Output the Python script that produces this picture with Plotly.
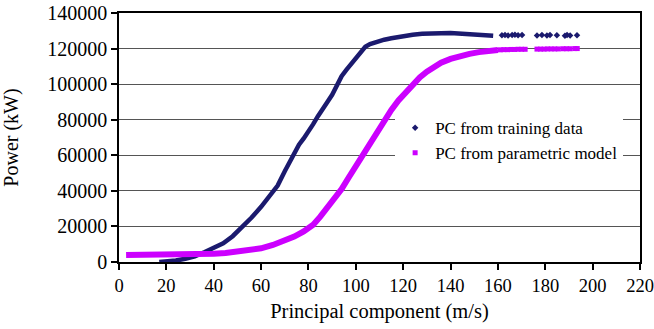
import plotly.graph_objects as go

# Power curve read from training data (dense part and sparse high-speed tail)
train_x = [17, 20, 24, 28, 32, 36, 40, 44, 48, 52, 56, 60, 64, 67, 70, 72, 74, 76, 78,
           80, 82, 84, 86, 88, 90, 92, 94, 96, 98, 100, 102, 104, 106, 108, 110, 112,
           115, 118, 121, 124, 128, 132, 136, 140, 144, 148, 152, 156, 158]
train_y = [0, 300, 800, 1800, 3200, 5500, 7800, 10500, 14500, 19500, 25000, 31000,
           37500, 43000, 51000, 56000, 61000, 66000, 69500, 73000, 77500, 82000, 86500,
           90000, 94000, 99000, 104500, 108000, 111500, 115000, 118500, 121000, 122500,
           123500, 124300, 125000, 125800, 126600, 127300, 127800, 128300, 128700,
           128600, 128800, 128400, 128200, 127600, 127400, 127200]
train_tail_x = [161.7, 163, 164.3, 166, 167.2, 168.5, 170.2, 176.5, 178.6, 180.7, 182,
                184.9, 188.3, 189.2, 190.5, 193.4]
train_tail_y = [127500, 127700, 127400, 127600, 127800, 127500, 127600, 127400, 127600,
                127300, 127700, 127500, 127200, 127600, 127400, 127500]

# Power curve from the parametric model
model_x = [3, 10, 20, 30, 40, 45, 50, 55, 60, 65, 70, 74, 78, 82, 85, 88, 91, 94, 97,
           100, 103, 106, 109, 112, 115, 118, 121, 124, 127, 130, 133, 136, 140, 144,
           148, 152, 156, 160]
model_y = [3900, 3900, 4000, 4200, 4700, 5100, 5700, 6500, 7700, 9600, 12000, 14300,
           17200, 21000, 25500, 30500, 35500, 41000, 47500, 54000, 60500, 67000, 73500,
           79800, 85500, 90800, 95500, 100000, 103800, 107000, 109800, 112000, 114200,
           115800, 117000, 118000, 118700, 119200]
model_tail_x = [161, 162.5, 164, 165.5, 167, 168.5, 170, 171.5, 176.5, 178, 179.5, 181,
                182.5, 184, 185.5, 187.5, 189, 190.5, 192.5, 193.5]
model_tail_y = [119300, 119400, 119400, 119500, 119500, 119600, 119600, 119600, 119700,
                119700, 119700, 119800, 119800, 119800, 119800, 119900, 119900, 119900,
                120000, 120000]

x_ticks = [0, 20, 40, 60, 80, 100, 120, 140, 160, 180, 200, 220]
y_ticks = [0, 20000, 40000, 60000, 80000, 100000, 120000, 140000]

NAVY = "#1b1a6e"
MAGENTA = "#cc00ff"
FONT = "Liberation Serif"

fig = go.Figure()

fig.add_trace(go.Scatter(
    x=train_x, y=train_y, mode="lines",
    line=dict(color=NAVY, width=4.5), showlegend=False, legendgroup="train",
))
fig.add_trace(go.Scatter(
    x=train_tail_x, y=train_tail_y, mode="markers",
    marker=dict(symbol="diamond", size=5, color=NAVY),
    name="PC from training data", legendgroup="train",
))
fig.add_trace(go.Scatter(
    x=model_x, y=model_y, mode="lines",
    line=dict(color=MAGENTA, width=6), showlegend=False, legendgroup="model",
))
fig.add_trace(go.Scatter(
    x=model_tail_x, y=model_tail_y, mode="markers",
    marker=dict(symbol="square", size=5, color=MAGENTA),
    name="PC from parametric model", legendgroup="model",
))

fig.update_layout(
    width=654, height=329,
    margin=dict(l=119, r=14, t=13, b=67),
    paper_bgcolor="white", plot_bgcolor="white",
    font=dict(family=FONT, color="black"),
    legend=dict(
        x=0.530, y=0.610, xanchor="left", yanchor="top",
        bgcolor="white", borderwidth=0,
        font=dict(family=FONT, size=17, color="black"),
        itemwidth=30, tracegroupgap=0,
    ),
)

fig.update_xaxes(
    range=[0, 220], tickvals=x_ticks, ticktext=[str(v) for v in x_ticks],
    showgrid=False, zeroline=False, automargin=False,
    showline=True, linecolor="black", linewidth=1.5, mirror=True,
    ticks="outside", ticklen=6, tickcolor="black", tickwidth=1.5,
    tickfont=dict(family=FONT, size=18.5),
    title=dict(text="Principal component (m/s)", font=dict(family=FONT, size=20.5),
               standoff=9),
)
fig.update_yaxes(
    range=[0, 140000], tickvals=y_ticks, ticktext=[str(v) for v in y_ticks],
    showgrid=True, gridcolor="#555555", gridwidth=1.4, zeroline=False, automargin=False,
    showline=True, linecolor="black", linewidth=1.5, mirror=True,
    ticks="outside", ticklen=6, tickcolor="black", tickwidth=1.5,
    tickfont=dict(family=FONT, size=20),
    title=dict(text="Power (kW)", font=dict(family=FONT, size=20), standoff=23),
)

fig.write_html("out.html")
